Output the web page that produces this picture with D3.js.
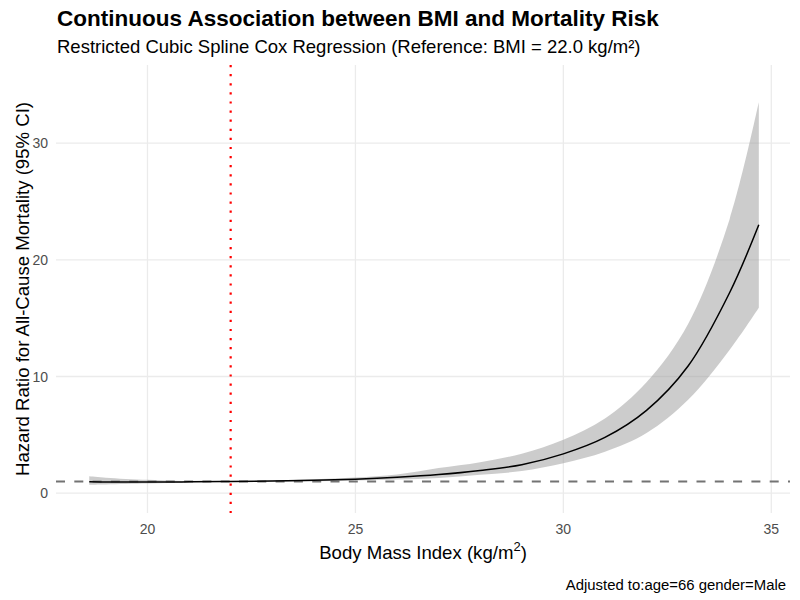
<!DOCTYPE html>
<html>
<head>
<meta charset="utf-8">
<script src="https://cdn.jsdelivr.net/npm/d3@7"></script>
<style>
  body { margin: 0; background: #fff; }
  text { font-family: "Liberation Sans", Arial, sans-serif; }
</style>
</head>
<body>
<div id="chart"></div>
<script>
// values
const bmi   = [18.6, 19, 20, 21, 22, 23, 24, 25, 26, 27, 28, 29, 30, 31, 32, 33, 34, 34.7];
const hr    = [0.97, 0.96, 0.95, 0.97, 1.00, 1.04, 1.10, 1.20, 1.36, 1.59, 1.94, 2.44, 3.37, 4.78, 7.1, 10.9, 17.2, 23.0];
const lower = [0.73, 0.75, 0.82, 0.92, 1.00, 0.99, 1.02, 1.08, 1.17, 1.30, 1.57, 1.90, 2.57, 3.55, 5.15, 8.0, 12.3, 15.9];
const upper = [1.46, 1.33, 1.14, 1.03, 1.00, 1.09, 1.19, 1.34, 1.60, 2.15, 2.66, 3.38, 4.57, 6.4, 9.5, 14.5, 23.5, 33.5];
const xTicks = [20, 25, 30, 35];
const yTicks = [0, 10, 20, 30];
const refBmi = 22;

const width = 800, height = 600;
const margin = {top: 65, right: 10, bottom: 87, left: 56};

const data = bmi.map((b, i) => ({bmi: b, hr: hr[i], lo: lower[i], hi: upper[i]}));

const svg = d3.select("#chart").append("svg")
  .attr("width", width)
  .attr("height", height);

const x = d3.scaleLinear()
  .domain([17.8, 35.45])
  .range([margin.left, width - margin.right]);

const y = d3.scaleLinear()
  .domain([-1.7, 36.7])
  .range([height - margin.bottom, margin.top]);

// grid
const grid = svg.append("g").attr("stroke", "#ebebeb").attr("stroke-width", 1.3);
grid.selectAll(".gx").data(xTicks).join("line")
  .attr("x1", d => x(d)).attr("x2", d => x(d))
  .attr("y1", margin.top).attr("y2", height - margin.bottom);
grid.selectAll(".gy").data(yTicks).join("line")
  .attr("x1", margin.left).attr("x2", width - margin.right)
  .attr("y1", d => y(d)).attr("y2", d => y(d));

// reference lines
svg.append("line")
  .attr("x1", margin.left).attr("x2", width - margin.right)
  .attr("y1", y(1)).attr("y2", y(1))
  .attr("stroke", "#737373").attr("stroke-width", 2)
  .attr("stroke-dasharray", "9,9.3");

svg.append("line")
  .attr("x1", x(refBmi)).attr("x2", x(refBmi))
  .attr("y1", margin.top).attr("y2", height - margin.bottom)
  .attr("stroke", "#ff0000").attr("stroke-width", 2.2)
  .attr("stroke-dasharray", "2.2,6.9");

// confidence band
const area = d3.area()
  .x(d => x(d.bmi))
  .y0(d => y(d.lo))
  .y1(d => y(d.hi))
  .curve(d3.curveCatmullRom.alpha(0.5));

svg.append("path")
  .datum(data)
  .attr("fill", "#999999")
  .attr("fill-opacity", 0.5)
  .attr("d", area);

const line = d3.line()
  .x(d => x(d.bmi))
  .y(d => y(d.hr))
  .curve(d3.curveCatmullRom.alpha(0.5));

svg.append("path")
  .datum(data)
  .attr("fill", "none")
  .attr("stroke", "#000")
  .attr("stroke-width", 1.5)
  .attr("d", line);

// tick labels
svg.append("g").selectAll("text").data(xTicks).join("text")
  .attr("x", d => x(d))
  .attr("y", 534)
  .attr("text-anchor", "middle")
  .attr("font-size", 14)
  .attr("fill", "#4d4d4d")
  .text(d => d);

svg.append("g").selectAll("text").data(yTicks).join("text")
  .attr("x", 48)
  .attr("y", d => y(d))
  .attr("dy", "0.36em")
  .attr("text-anchor", "end")
  .attr("font-size", 14)
  .attr("fill", "#4d4d4d")
  .text(d => d);

// axis titles
const xt = svg.append("text")
  .attr("x", (margin.left + width - margin.right) / 2)
  .attr("y", 559)
  .attr("text-anchor", "middle")
  .attr("font-size", 18.6)
  .attr("fill", "#000");
xt.append("tspan").text("Body Mass Index (kg/m");
xt.append("tspan").attr("font-size", 13).attr("dy", -8).text("2");
xt.append("tspan").attr("dy", 8).text(")");

svg.append("text")
  .attr("transform", `translate(28.5,${(margin.top + height - margin.bottom) / 2}) rotate(-90)`)
  .attr("text-anchor", "middle")
  .attr("font-size", 18.6)
  .attr("fill", "#000")
  .text("Hazard Ratio for All-Cause Mortality (95% CI)");

// titles
svg.append("text")
  .attr("x", 57).attr("y", 26)
  .attr("font-size", 22.5)
  .attr("font-weight", "bold")
  .text("Continuous Association between BMI and Mortality Risk");

svg.append("text")
  .attr("x", 57).attr("y", 53)
  .attr("font-size", 18.5)
  .text("Restricted Cubic Spline Cox Regression (Reference: BMI = 22.0 kg/m²)");

svg.append("text")
  .attr("x", 786).attr("y", 590)
  .attr("text-anchor", "end")
  .attr("font-size", 14.9)
  .text("Adjusted to:age=66 gender=Male");
</script>
</body>
</html>
